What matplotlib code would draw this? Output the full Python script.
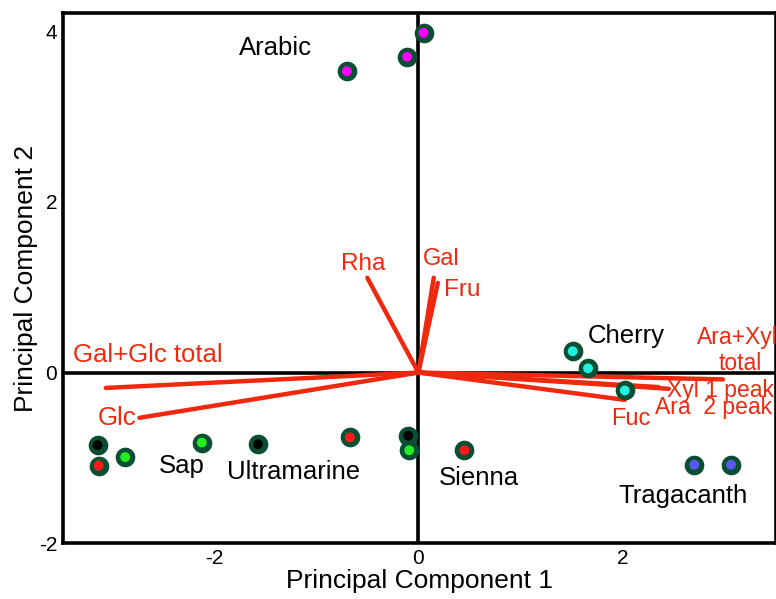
"""PCA biplot of gum binders: scores and sugar loadings."""

import matplotlib
matplotlib.use("Agg")
import matplotlib.pyplot as plt

plt.rcParams["font.family"] = ["Liberation Sans", "DejaVu Sans"]
plt.rcParams["axes.unicode_minus"] = False

# ---------------------------------------------------------------------------
# Data
# ---------------------------------------------------------------------------

score_x = [0.05, -0.11, -0.70,
           1.51, 1.66, 2.02,
           2.70, 3.06,
           -3.14, -3.13, -2.87, -2.12, -1.57, -0.67, -0.10, -0.09, 0.45]
score_y = [3.98, 3.70, 3.53,
           0.25, 0.05, -0.21,
           -1.08, -1.08,
           -0.85, -1.09, -0.99, -0.82, -0.84, -0.76, -0.74, -0.91, -0.91]
score_fill = ["#ff00ff", "#ff00ff", "#ff00ff",
              "#22f0e0", "#22f0e0", "#22f0e0",
              "#5a5af0", "#5a5af0",
              "black", "#ff1a1a", "#22ee22", "#22ee22", "black",
              "#ff1a1a", "black", "#22ee22", "#ff1a1a"]

sample_names = ["Arabic", "Cherry", "Tragacanth", "Sap", "Ultramarine", "Sienna"]
sample_name_x = [-1.40, 2.03, 2.59, -2.32, -1.22, 0.59]
sample_name_y = [3.80, 0.43, -1.45, -1.10, -1.17, -1.23]

loading_names = ["Rha", "Gal", "Fru", "Gal+Glc total", "Glc",
                 "Ara+Xyl total", "Xyl 1 peak", "Ara  2 peak", "Fuc"]
loading_x = [-0.50, 0.15, 0.19, -3.06, -2.73, 2.98, 2.45, 2.35, 2.02]
loading_y = [1.11, 1.11, 1.05, -0.18, -0.53, -0.08, -0.19, -0.17, -0.32]

x_ticks = [-2, 0, 2]
y_ticks = [-2, 0, 2, 4]

RED = "#f0280e"
RING = "#0b4f33"

fig = plt.figure(figsize=(7.76, 5.99), dpi=100)
ax = fig.add_axes([0.081, 0.093, 0.919, 0.885])

# axes through origin
ax.axhline(0, color="black", lw=2.6, zorder=1)
ax.axvline(0, color="black", lw=2.6, zorder=1)

# loading vectors
for lx, ly in zip(loading_x, loading_y):
    ax.plot([0, lx], [0, ly], color=RED, lw=3.2, solid_capstyle="round", zorder=2)

# scores: dark ring with coloured centre
ax.scatter(score_x, score_y, s=200, color=RING, zorder=3, linewidths=0)
ax.scatter(score_x, score_y, s=50, c=score_fill, zorder=4, linewidths=0)

for name, tx, ty in zip(sample_names, sample_name_x, sample_name_y):
    ax.text(tx, ty, name, fontsize=18.5, ha="center", va="center", color="black")

# loading labels (placed by hand)
ax.text(-0.54, 1.27, "Rha", color=RED, fontsize=17.5, ha="center", va="center")
ax.text(0.22, 1.33, "Gal", color=RED, fontsize=17, ha="center", va="center")
ax.text(0.43, 0.97, "Fru", color=RED, fontsize=17.5, ha="center", va="center")
ax.text(-3.38, 0.21, "Gal+Glc total", color=RED, fontsize=18.5, ha="left", va="center")
ax.text(-2.95, -0.53, "Glc", color=RED, fontsize=18.5, ha="center", va="center")
ax.text(2.73, 0.41, "Ara+Xyl", color=RED, fontsize=16.5, ha="left", va="center", clip_on=False)
ax.text(3.15, 0.11, "total", color=RED, fontsize=16.5, ha="center", va="center")
ax.text(2.43, -0.21, "Xyl 1 peak", color=RED, fontsize=16.5, ha="left", va="center")
ax.text(2.32, -0.41, "Ara  2 peak", color=RED, fontsize=16.5, ha="left", va="center")
ax.text(2.08, -0.54, "Fuc", color=RED, fontsize=17, ha="center", va="center")

ax.set_xlim(-3.48, 3.5)
ax.set_ylim(-2, 4.21)
ax.set_xticks(x_ticks)
ax.set_yticks(y_ticks)
ax.tick_params(length=0, labelsize=15, pad=4)
for sp in ax.spines.values():
    sp.set_linewidth(2.6)

ax.set_xlabel("Principal Component 1", fontsize=19, labelpad=1)
ax.set_ylabel("Principal Component 2", fontsize=19, labelpad=1)

fig.savefig("out.png", dpi=100)
